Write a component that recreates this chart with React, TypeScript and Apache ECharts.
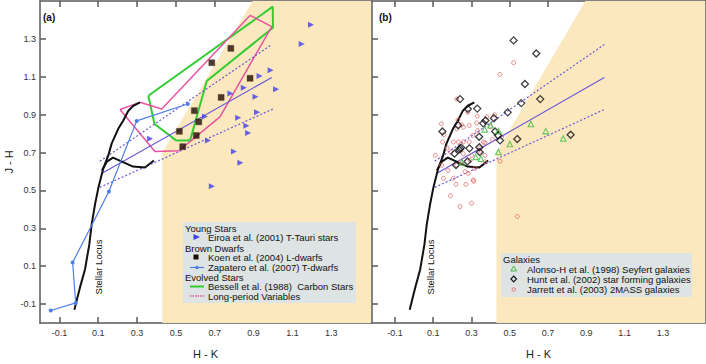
import React, { useEffect, useRef } from "react";
import * as echarts from "echarts";

// ---- axes ----
const xTicks = [-0.1, 0.1, 0.3, 0.5, 0.7, 0.9, 1.1, 1.3];
const yTicks = [-0.1, 0.1, 0.3, 0.5, 0.7, 0.9, 1.1, 1.3];
const yRange = [-0.2, 1.5];
const xRangeA = [-0.2, 1.505];
const xRangeB = [-0.22, 1.52];

// ---- shared curves (H-K, J-H) ----
const stellarLocusMain = [
  [-0.023, -0.13], [-0.011, -0.081], [0.006, -0.012], [0.032, 0.084], [0.054, 0.215],
  [0.066, 0.319], [0.083, 0.424], [0.1, 0.511], [0.113, 0.564], [0.126, 0.616],
  [0.152, 0.685], [0.169, 0.747], [0.203, 0.825], [0.229, 0.869], [0.255, 0.921],
  [0.281, 0.947], [0.315, 0.965],
];
const stellarLocusGiant = [
  [0.119, 0.605], [0.145, 0.652], [0.176, 0.673], [0.222, 0.652], [0.279, 0.626],
  [0.341, 0.621], [0.367, 0.642], [0.387, 0.658],
];
const cttsLocus = [[0.115, 0.588], [0.994, 1.096]];
const cttsUpper = [[0.108, 0.654], [0.994, 1.27]];
const cttsLower = [[0.108, 0.516], [1.0, 0.93]];
const excessCorner = [[0.43, 0.7], [0.895, 1.5]];

// ---- panel (a) ----
const tTauri = [
  [0.367, 0.773], [1.196, 1.374], [1.148, 1.273], [0.988, 1.134], [0.931, 1.104],
  [0.781, 1.012], [0.85, 1.042], [0.91, 0.994], [1.016, 1.034], [0.65, 0.89],
  [0.821, 0.884], [0.918, 0.912], [0.863, 0.842], [0.872, 0.803], [0.665, 0.764],
  [0.799, 0.705], [0.832, 0.646], [0.685, 0.522],
];
const lDwarfs = [
  [0.518, 0.812], [0.535, 0.731], [0.595, 0.921], [0.618, 0.862], [0.605, 0.79],
  [0.685, 1.174], [0.733, 0.991], [0.783, 1.25], [0.882, 1.092],
];
const tDwarfs = [
  [-0.145, -0.134], [-0.016, -0.094], [-0.032, 0.119], [0.155, 0.494], [0.298, 0.867], [0.561, 0.956],
];
const carbonStars = [
  [0.358, 1.0], [0.999, 1.47], [1.0, 1.359], [0.659, 1.078], [0.573, 0.764],
  [0.501, 0.764], [0.39, 0.851], [0.358, 1.0],
];
const lpVariables = [
  [0.212, 0.927], [0.315, 0.965], [0.427, 0.93], [0.882, 1.424], [0.994, 1.365],
  [0.727, 0.888], [0.516, 0.71], [0.392, 0.705], [0.212, 0.927],
];

// ---- panel (b) ----
const seyferts = [
  [0.4, 0.844], [0.441, 0.814], [0.61, 0.851], [0.688, 0.813], [0.779, 0.774],
  [0.5, 0.745], [0.44, 0.703], [0.369, 0.822], [0.322, 0.677], [0.25, 0.648], [0.349, 0.667],
];
const starForming = [
  [0.52, 1.292], [0.638, 1.223], [0.579, 1.062], [0.659, 0.982], [0.56, 0.961],
  [0.489, 0.912], [0.417, 0.881], [0.24, 0.982], [0.281, 0.93], [0.33, 0.932],
  [0.23, 0.844], [0.148, 0.811], [0.361, 0.854], [0.373, 0.869], [0.423, 0.811],
  [0.439, 0.79], [0.449, 0.764], [0.34, 0.783], [0.539, 0.771], [0.818, 0.794],
  [0.341, 0.728], [0.289, 0.722], [0.241, 0.72], [0.235, 0.715], [0.246, 0.726],
  [0.211, 0.694], [0.343, 0.702], [0.279, 0.653], [0.219, 0.634],
];
const twoMass = [
  [0.52, 1.174], [0.448, 1.112], [0.223, 0.982], [0.281, 0.912], [0.33, 0.892],
  [0.38, 0.889], [0.42, 0.899], [0.142, 0.852], [0.249, 0.846], [0.288, 0.843],
  [0.332, 0.816], [0.223, 0.825], [0.306, 0.79], [0.149, 0.756], [0.205, 0.756],
  [0.231, 0.756], [0.257, 0.756], [0.288, 0.756], [0.362, 0.756], [0.409, 0.769],
  [0.458, 0.782], [0.173, 0.724], [0.191, 0.703], [0.257, 0.694], [0.301, 0.685],
  [0.344, 0.703], [0.37, 0.685], [0.344, 0.724], [0.37, 0.651], [0.449, 0.654],
  [0.144, 0.633], [0.223, 0.633], [0.266, 0.599], [0.205, 0.564], [0.283, 0.59],
  [0.309, 0.555], [0.153, 0.564], [0.219, 0.532], [0.271, 0.532], [0.19, 0.472],
  [0.24, 0.415], [0.3, 0.432], [0.539, 0.362], [0.111, 0.685], [0.311, 0.549],
  [0.37, 0.752], [0.257, 0.834], [0.327, 0.856], [0.245, 0.653], [0.156, 0.794],
  [0.397, 0.836], [0.318, 0.616], [0.177, 0.605], [0.292, 0.658], [0.229, 0.872],
];

// ---- styles ----
const FONT = "Liberation Sans";
const AX = "#5a5a5a";
const BEIGE = "#fce8bf";
const CTTS = "#6a5ad8";
const BROWN = "#8a5a22";

function xAxis(gridIndex: number, range: number[], position: "bottom" | "top") {
  const bottom = position === "bottom";
  return {
    type: "value", gridIndex, position, min: range[0], max: range[1],
    axisLine: { show: true, onZero: false, lineStyle: { color: AX, width: 1.5 } },
    axisTick: { show: true, inside: true, length: 6, customValues: xTicks, lineStyle: { color: AX, width: 1.5 } },
    axisLabel: {
      show: bottom, customValues: xTicks, formatter: (v: number) => v.toFixed(1),
      color: "#333", fontSize: 9, fontFamily: FONT, margin: 5,
    },
    splitLine: { show: false },
    name: bottom ? "H - K" : "", nameLocation: "middle", nameGap: 25,
    nameTextStyle: { fontSize: 11, color: "#222", fontFamily: FONT },
  };
}
function yAxis(gridIndex: number, position: "left" | "right", labels: boolean) {
  return {
    type: "value", gridIndex, position, min: yRange[0], max: yRange[1],
    axisLine: { show: true, onZero: false, lineStyle: { color: AX, width: 1.5 } },
    axisTick: { show: true, inside: true, length: 6, customValues: yTicks, lineStyle: { color: AX, width: 1.5 } },
    axisLabel: {
      show: labels, customValues: yTicks, formatter: (v: number) => v.toFixed(1),
      color: "#333", fontSize: 9, fontFamily: FONT, margin: 4,
    },
    splitLine: { show: false },
    name: labels ? "J - H" : "", nameLocation: "middle", nameGap: 26,
    nameTextStyle: { fontSize: 11, color: "#222", fontFamily: FONT },
  };
}

function excessArea(xi: number, yi: number, xmax: number) {
  const pts = [
    [excessCorner[0][0], yRange[0]], excessCorner[0], excessCorner[1],
    [xmax, yRange[1]], [xmax, yRange[0]],
  ];
  return {
    type: "custom", xAxisIndex: xi, yAxisIndex: yi, silent: true, z: 1, data: [[0.5, 0.5]],
    renderItem: (_p: any, api: any) => ({
      type: "polygon", shape: { points: pts.map((p) => api.coord(p)) }, style: { fill: BEIGE },
    }),
  };
}
function line(xi: number, yi: number, data: number[][], color: string, width: number, type: any = "solid", z = 3) {
  return {
    type: "line", xAxisIndex: xi, yAxisIndex: yi, data, symbol: "none", z, silent: true,
    lineStyle: { color, width, type }, itemStyle: { color },
  };
}
function sharedCurves(xi: number, yi: number) {
  return [
    line(xi, yi, cttsUpper, CTTS, 1.2, [2, 2]),
    line(xi, yi, cttsLower, CTTS, 1.2, [2, 2]),
    line(xi, yi, cttsLocus, CTTS, 1.2),
    line(xi, yi, stellarLocusMain, "#111", 2),
    line(xi, yi, stellarLocusGiant, "#111", 2),
  ];
}

const TRI_RIGHT = "path://M0,0L10,5L0,10Z";

const option: any = {
  animation: false,
  grid: [
    { left: 40, top: 1, width: 331, height: 325 },
    { left: 372, top: 1, width: 333, height: 325 },
  ],
  xAxis: [xAxis(0, xRangeA, "bottom"), xAxis(0, xRangeA, "top"), xAxis(1, xRangeB, "bottom"), xAxis(1, xRangeB, "top")],
  yAxis: [yAxis(0, "left", true), yAxis(1, "left", false), yAxis(1, "right", false)],
  series: [
    excessArea(0, 0, xRangeA[1]),
    line(0, 0, carbonStars, "#33cc33", 2),
    line(0, 0, lpVariables, "#e8559e", 1.5),
    ...sharedCurves(0, 0),
    {
      type: "line", xAxisIndex: 0, yAxisIndex: 0, data: tDwarfs, symbol: "circle", symbolSize: 4, z: 4,
      lineStyle: { color: "#4d7fe6", width: 1.2 }, itemStyle: { color: "#4d7fe6" },
    },
    {
      type: "scatter", xAxisIndex: 0, yAxisIndex: 0, data: lDwarfs, symbol: "rect", symbolSize: 6, z: 5,
      itemStyle: { color: "#1a0d05", borderColor: "#5a3010", borderWidth: 0.5 },
    },
    {
      type: "scatter", xAxisIndex: 0, yAxisIndex: 0, data: tTauri, symbol: TRI_RIGHT, symbolSize: 6, z: 5,
      itemStyle: { color: "#3f3fe8" },
    },
    excessArea(2, 1, xRangeB[1]),
    ...sharedCurves(2, 1),
    {
      type: "scatter", xAxisIndex: 2, yAxisIndex: 1, data: twoMass, symbol: "circle", symbolSize: 4, z: 4,
      itemStyle: { color: "rgba(0,0,0,0)", borderColor: "#e46a6a", borderWidth: 1 },
    },
    {
      type: "scatter", xAxisIndex: 2, yAxisIndex: 1, data: starForming, symbol: "diamond", symbolSize: 7, z: 5,
      itemStyle: { color: "rgba(0,0,0,0)", borderColor: "#111", borderWidth: 1.3 },
    },
    {
      type: "scatter", xAxisIndex: 2, yAxisIndex: 1, data: seyferts, symbol: "triangle", symbolSize: 5.5, z: 6,
      itemStyle: { color: "rgba(0,0,0,0)", borderColor: "#3dbb3d", borderWidth: 1.1 },
    },
  ],
  graphic: [
    // panel labels
    { type: "text", x: 43, y: 17, style: { text: "(a)", fontSize: 10, fontWeight: "bold", fontFamily: FONT, fill: "#111", verticalAlign: "middle" } },
    { type: "text", x: 379, y: 17, style: { text: "(b)", fontSize: 10, fontWeight: "bold", fontFamily: FONT, fill: "#111", verticalAlign: "middle" } },
    // CTTS locus labels
    { type: "text", x: 298, y: 65, rotation: (31.6 * Math.PI) / 180, style: { text: "CTTS locus", fontSize: 10, fontFamily: FONT, fill: CTTS, align: "center", verticalAlign: "middle" } },
    { type: "text", x: 631, y: 64, rotation: (31.6 * Math.PI) / 180, style: { text: "CTTS locus", fontSize: 10, fontFamily: FONT, fill: CTTS, align: "center", verticalAlign: "middle" } },
    // NIR excess labels
    { type: "text", x: 272, y: 150, style: { text: "Near-Infrared\nExcess Sources", fontSize: 9.5, lineHeight: 10, fontFamily: FONT, fill: BROWN, verticalAlign: "middle" } },
    { type: "text", x: 605, y: 150, style: { text: "Near-Infrared\nExcess Sources", fontSize: 9.5, lineHeight: 10, fontFamily: FONT, fill: BROWN, verticalAlign: "middle" } },
    // Stellar locus labels
    { type: "text", x: 98, y: 267, rotation: Math.PI / 2, style: { text: "Stellar Locus", fontSize: 9.5, fontFamily: FONT, fill: "#111", align: "center", verticalAlign: "middle" } },
    { type: "text", x: 430, y: 267, rotation: Math.PI / 2, style: { text: "Stellar Locus", fontSize: 9.5, fontFamily: FONT, fill: "#111", align: "center", verticalAlign: "middle" } },
    // legend (a)
    { type: "rect", shape: { x: 183, y: 222, width: 173, height: 81 }, style: { fill: "#dee3e3" }, z: 10 },
    { type: "text", x: 185, y: 228, z: 11, style: { text: "Young Stars", fontSize: 9.5, fontFamily: FONT, fill: "#111", verticalAlign: "middle" } },
    { type: "polygon", z: 11, shape: { points: [[193.5, 234], [200, 237], [193.5, 240]] }, style: { fill: "#3f3fe8" } },
    { type: "text", x: 208, y: 237.5, z: 11, style: { text: "Eiroa et al. (2001) T-Tauri stars", fontSize: 9.5, fontFamily: FONT, fill: "#111", verticalAlign: "middle" } },
    { type: "text", x: 185, y: 248, z: 11, style: { text: "Brown Dwarfs", fontSize: 9.5, fontFamily: FONT, fill: "#111", verticalAlign: "middle" } },
    { type: "rect", z: 11, shape: { x: 193.5, y: 254.5, width: 5, height: 5 }, style: { fill: "#1a0d05" } },
    { type: "text", x: 208, y: 257.5, z: 11, style: { text: "Koen et al. (2004) L-dwarfs", fontSize: 9.5, fontFamily: FONT, fill: "#111", verticalAlign: "middle" } },
    { type: "line", z: 11, shape: { x1: 190, y1: 267.5, x2: 204, y2: 267.5 }, style: { stroke: "#4d7fe6", lineWidth: 1.2 } },
    { type: "circle", z: 11, shape: { cx: 197, cy: 267.5, r: 1.8 }, style: { fill: "#4d7fe6" } },
    { type: "text", x: 208, y: 267.5, z: 11, style: { text: "Zapatero et al. (2007) T-dwarfs", fontSize: 9.5, fontFamily: FONT, fill: "#111", verticalAlign: "middle" } },
    { type: "text", x: 185, y: 277, z: 11, style: { text: "Evolved Stars", fontSize: 9.5, fontFamily: FONT, fill: "#111", verticalAlign: "middle" } },
    { type: "line", z: 11, shape: { x1: 190, y1: 286.5, x2: 204, y2: 286.5 }, style: { stroke: "#33cc33", lineWidth: 2 } },
    { type: "text", x: 208, y: 286.5, z: 11, style: { text: "Bessell et al. (1988)  Carbon Stars", fontSize: 9.5, fontFamily: FONT, fill: "#111", verticalAlign: "middle" } },
    { type: "line", z: 11, shape: { x1: 190, y1: 296, x2: 204, y2: 296 }, style: { stroke: "#e8559e", lineWidth: 1.5, lineDash: [1.5, 1] } },
    { type: "text", x: 208, y: 296, z: 11, style: { text: "Long-period Variables", fontSize: 9.5, fontFamily: FONT, fill: "#111", verticalAlign: "middle" } },
    // legend (b)
    { type: "rect", shape: { x: 501, y: 253, width: 191, height: 44 }, style: { fill: "#dee3e3" }, z: 10 },
    { type: "text", x: 503, y: 259, z: 11, style: { text: "Galaxies", fontSize: 9.5, fontFamily: FONT, fill: "#111", verticalAlign: "middle" } },
    { type: "polygon", z: 11, shape: { points: [[513.7, 266], [516.5, 271], [510.9, 271]] }, style: { fill: "none", stroke: "#3dbb3d", lineWidth: 1 } },
    { type: "text", x: 527, y: 269, z: 11, style: { text: "Alonso-H et al. (1998) Seyfert galaxies", fontSize: 9.5, fontFamily: FONT, fill: "#111", verticalAlign: "middle" } },
    { type: "polygon", z: 11, shape: { points: [[513.7, 276], [516.5, 279], [513.7, 282], [510.9, 279]] }, style: { fill: "none", stroke: "#111", lineWidth: 1.1 } },
    { type: "text", x: 527, y: 279, z: 11, style: { text: "Hunt et al. (2002) star forming galaxies", fontSize: 9.5, fontFamily: FONT, fill: "#111", verticalAlign: "middle" } },
    { type: "circle", z: 11, shape: { cx: 513.7, cy: 289.5, r: 1.7 }, style: { fill: "none", stroke: "#e46a6a", lineWidth: 1 } },
    { type: "text", x: 527, y: 289.5, z: 11, style: { text: "Jarrett et al. (2003) 2MASS galaxies", fontSize: 9.5, fontFamily: FONT, fill: "#111", verticalAlign: "middle" } },
  ],
};

export default function App() {
  const ref = useRef<HTMLDivElement>(null);
  useEffect(() => {
    if (!ref.current) return;
    const chart = echarts.init(ref.current, null, { renderer: "svg" });
    chart.setOption(option);
    return () => chart.dispose();
  }, []);
  return (
    <div
      ref={ref}
      style={{ position: "fixed", left: 0, top: 0, width: 706, height: 364, background: "#fff" }}
    />
  );
}
